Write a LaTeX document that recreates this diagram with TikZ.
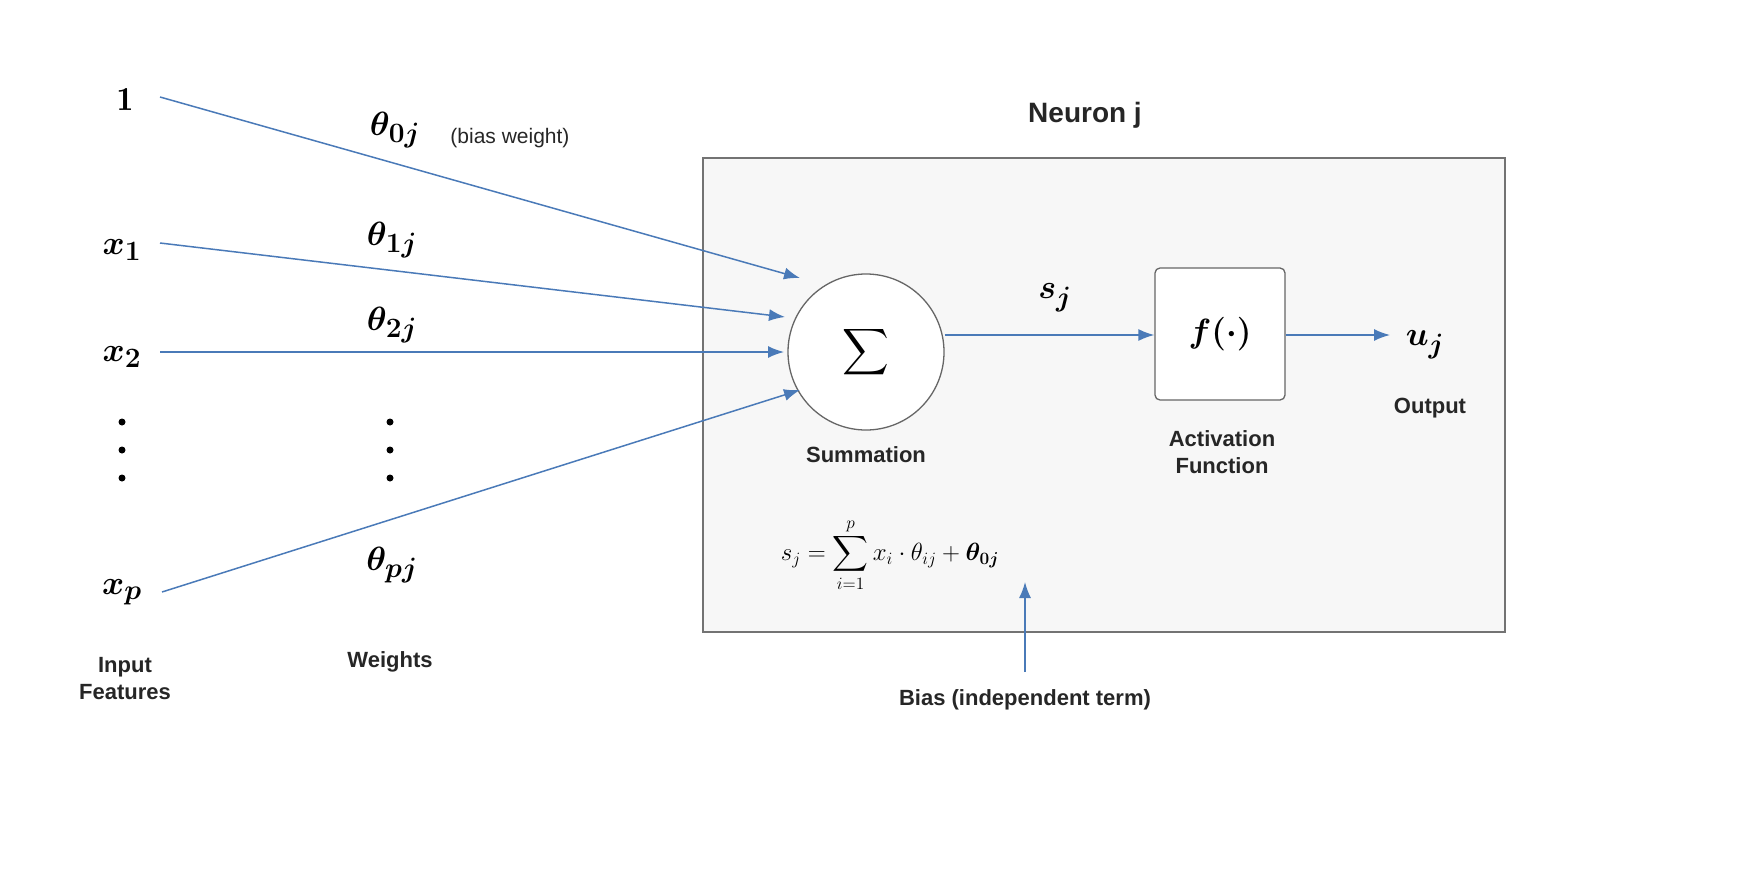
\documentclass[tikz,border=0pt]{standalone}
\usepackage{amsmath,bm}
\usepackage{fontspec}
\setsansfont{Liberation Sans}
\usetikzlibrary{arrows.meta}
\definecolor{arr}{HTML}{4A7AB8}
\tikzset{
 conn/.style={draw=arr,line width=1.5pt,-{Latex[length=16pt,width=12pt]}},
 lab/.style={font=\sffamily\bfseries\fontsize{22}{27}\selectfont,align=center,text=black!85},
 mth/.style={font=\Huge,scale=1.35},
 dotsn/.style={circle,fill=black,inner sep=0pt,minimum size=7pt}
}
\begin{document}
\begin{tikzpicture}[x=1pt,y=-1pt]
\useasboundingbox (0,0) rectangle (1760,880);
\draw[fill=black!3,draw=black!55,line width=1.3pt] (703,158) rectangle (1505,632);
\node[lab,font=\sffamily\bfseries\fontsize{28}{32}\selectfont] (title) at (1085,115) {Neuron j};
\node[mth] (one) at (125,100) {$\mathbf{1}$};
\node[mth] (x1) at (122,250) {$\bm{x_1}$};
\node[mth] (x2) at (122,357) {$\bm{x_2}$};
\node[mth] (xp) at (122,592) {$\bm{x_p}$};
\foreach \y in {422,450,478} \node[dotsn] at (122,\y) {};
\foreach \y in {422,450,478} \node[dotsn] at (390,\y) {};
\coordinate (o) at (160,97); \coordinate (a1) at (160,243);
\coordinate (a2) at (160,352); \coordinate (ap) at (162,592);
\node[mth] (t0) at (395,130) {$\bm{\theta_{0j}}$};
\node[lab,font=\sffamily\fontsize{21}{25}\selectfont] (bw) at (510,138) {(bias weight)};
\node[mth] (t1) at (392,240) {$\bm{\theta_{1j}}$};
\node[mth] (t2) at (392,325) {$\bm{\theta_{2j}}$};
\node[mth] (tp) at (392,565) {$\bm{\theta_{pj}}$};
\node[circle,draw=black!60,fill=white,line width=1.3pt,minimum size=156pt] (sum) at (866,352) {};
\node[font=\Huge,scale=1.3] (sig) at (sum.center) {$\displaystyle\sum$};
\coordinate (e0) at (800,278); \coordinate (e1) at (785,317);
\coordinate (e2) at (784,352); \coordinate (ep) at (800,390);
\draw[conn] (o) -- (e0);
\draw[conn] (a1) -- (e1);
\draw[conn] (a2) -- (e2);
\draw[conn] (ap) -- (ep);
\node[draw=black!60,fill=white,rounded corners=5pt,line width=1.3pt,minimum width=130pt,minimum height=132pt] (f) at (1220,334) {};
\node[mth] (fl) at (f.center) {$\bm{f(\cdot)}$};
\draw[conn] (sum.east |- 0,335) -- (f.west |- 0,335);
\node[mth] (sj) at (1055,298) {$\bm{s_j}$};
\coordinate (uo) at (1390,335);
\draw[conn] (f.east |- 0,335) -- (uo);
\node[mth] (uj) at (1425,345) {$\bm{u_j}$};
\node[lab] (out) at (1430,408) {Output};
\node[lab] (sl) at (866,455) {Summation};
\node[lab] (al) at (1222,452) {Activation\\Function};
\node[font=\huge,scale=1.2] (form) at (890,555) {$s_j=\displaystyle\sum_{i=1}^{p} x_i\cdot\theta_{ij}+\bm{\theta_{0j}}$};
\node[lab] (bias) at (1025,700) {Bias (independent term)};
\coordinate (bt) at (1025,582);
\draw[conn] (1025,672) -- (bt);
\node[lab] (inf) at (125,679) {Input\\Features};
\node[lab] (wl) at (390,662) {Weights};
\end{tikzpicture}
\end{document}
